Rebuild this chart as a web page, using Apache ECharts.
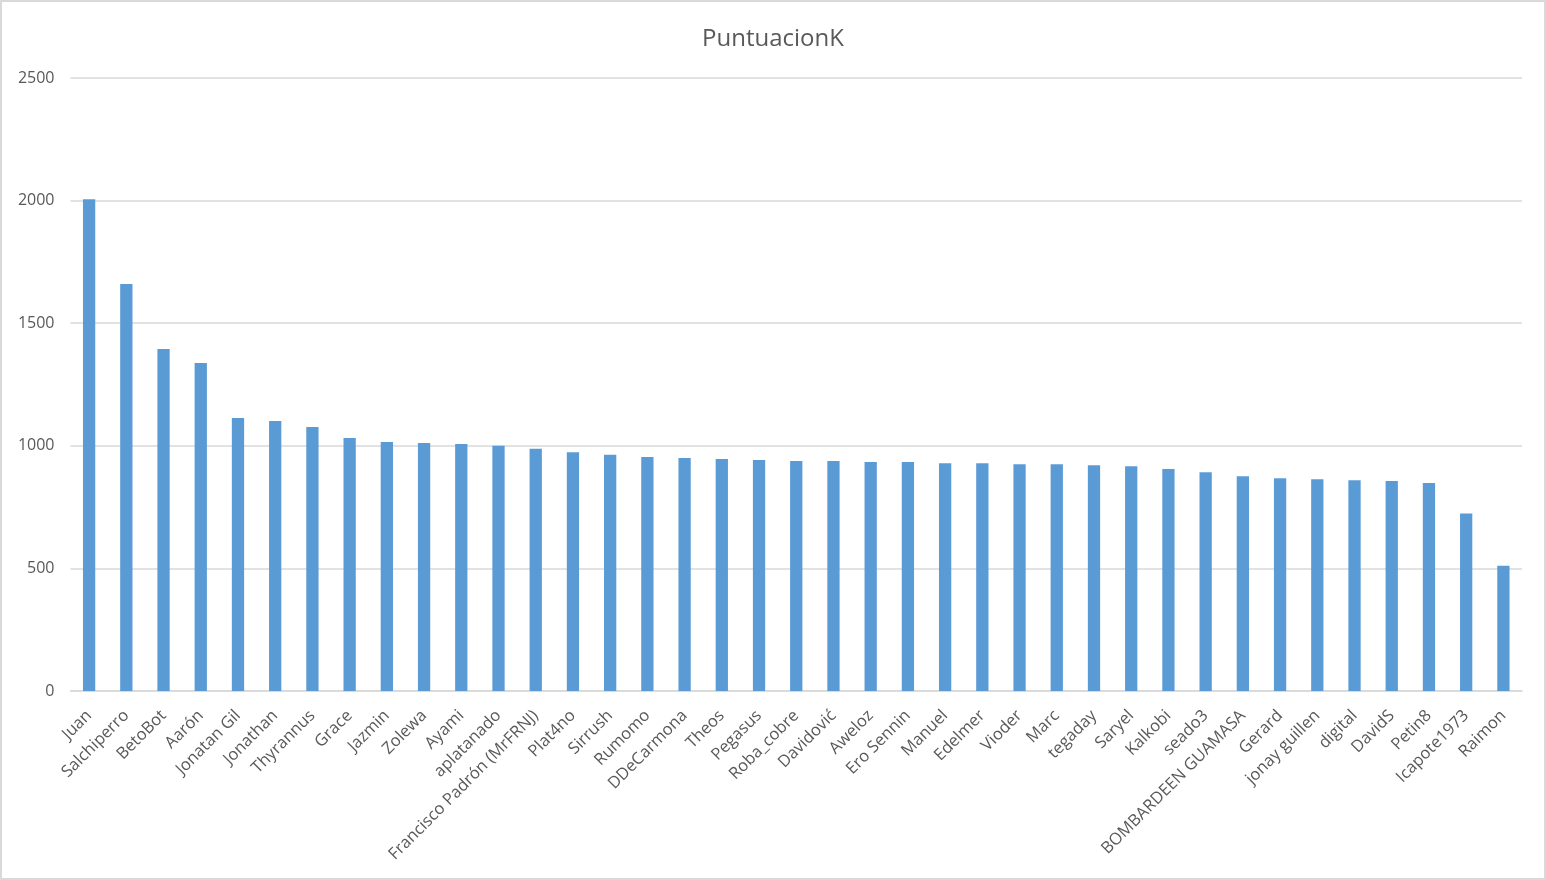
<!DOCTYPE html>
<html>
<head>
<meta charset="utf-8">
<title>PuntuacionK</title>
<script src="https://cdn.jsdelivr.net/npm/echarts@6/dist/echarts.min.js"></script>
<style>
  html, body { margin: 0; padding: 0; background: #fff; }
  #chart { width: 1546px; height: 880px; box-sizing: border-box; border: 2px solid #d9d9d9; }
</style>
</head>
<body>
<div id="chart"></div>
<script>
// players, in the order they appear on the axis
const players = [
    'Juan', 'Salchiperro', 'BetoBot', 'Aarón', 'Jonatan Gil', 'Jonathan', 'Thyrannus',
    'Grace', 'Jazmin', 'Zolewa', 'Ayami', 'aplatanado', 'Francisco Padrón (MrFRNJ)',
    'Plat4no', 'Sirrush', 'Rumomo', 'DDeCarmona', 'Theos', 'Pegasus', 'Roba_cobre',
    'Davidović', 'Aweloz', 'Ero Sennin', 'Manuel', 'Edelmer', 'Vioder', 'Marc',
    'tegaday', 'Saryel', 'Kalkobi', 'seado3', 'BOMBARDEEN GUAMASA', 'Gerard',
    'jonay guillen', 'digital', 'DavidS', 'Petin8', 'Icapote1973', 'Raimon'
];

// scores
const scores = [
    2005, 1660, 1395, 1338, 1113, 1101, 1077,
    1032, 1015, 1011, 1007, 1000, 988,
    974, 963, 954, 950, 946, 942, 938,
    938, 934, 934, 929, 929, 925, 925,
    921, 917, 905, 892, 876, 868,
    864, 860, 856, 848, 724, 511
];

const yTicks = { min: 0, max: 2500, interval: 500 };

const chart = echarts.init(document.getElementById('chart'));

const textColor = '#595959';
const font = '"Open Sans", "Noto Sans", sans-serif';

chart.setOption({
    animation: false,
    title: {
        text: 'PuntuacionK',
        left: 'center',
        top: 20,
        textStyle: { color: textColor, fontSize: 24, fontWeight: 'normal', fontFamily: font }
    },
    grid: { left: 68.5, right: 22, top: 76, bottom: 187 },
    xAxis: {
        type: 'category',
        data: players,
        axisLine: { lineStyle: { color: '#d9d9d9', width: 1.5 } },
        axisTick: { show: false },
        axisLabel: {
            rotate: 45,
            interval: 0,
            margin: 22,
            color: textColor,
            fontSize: 16.5,
            fontFamily: font
        }
    },
    yAxis: {
        type: 'value',
        min: yTicks.min,
        max: yTicks.max,
        interval: yTicks.interval,
        axisLine: { show: false },
        axisTick: { show: false },
        splitLine: { lineStyle: { color: '#d9d9d9', width: 1.5 } },
        axisLabel: {
            color: textColor,
            fontSize: 16,
            margin: 16,
            fontFamily: font,
            formatter: value => String(value)
        }
    },
    series: [
        {
            name: 'PuntuacionK',
            type: 'bar',
            data: scores,
            barWidth: '33%',
            itemStyle: { color: '#5b9bd5' }
        }
    ]
});
</script>
</body>
</html>
